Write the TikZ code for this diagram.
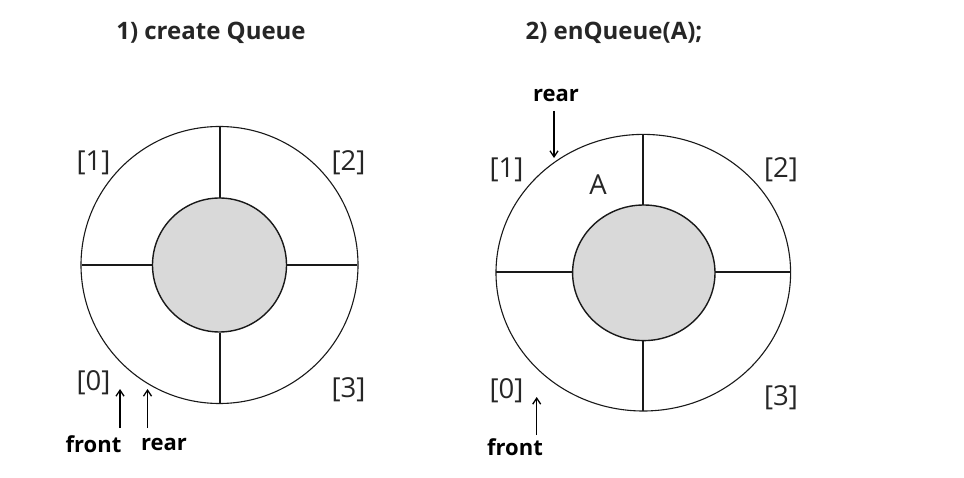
\documentclass[tikz,border=0pt]{standalone}
\usepackage{fontspec}
\setmainfont{Open Sans}
\usetikzlibrary{arrows.meta}
\begin{document}
\begin{tikzpicture}[x=1pt,y=-1pt,
  title/.style={font=\fontsize{24}{28}\selectfont\bfseries, text=black!85},
  idx/.style={font=\fontsize{27.5}{32}\selectfont, text=black!85},
  ptr/.style={font=\fontsize{22}{26}\selectfont\bfseries, text=black},
  divider/.style={line width=2pt, draw=black!90},
  ring/.style={line width=1.1pt, draw=black!90},
  hub/.style={line width=1.4pt, draw=black!90, fill=black!15},
  ptrarrow/.style={line width=1.3pt, -{Straight Barb[length=6pt,width=8pt]}}]
\useasboundingbox[fill=white] (0,0) rectangle (964,478);

% ---------- 1) create Queue ----------
\node[title] (t1) at (211,33) {1) create Queue};
\draw[divider] (219.5,126) -- (219.5,198) (219.5,333) -- (219.5,404)
  (82,265) -- (153,265) (286,265) -- (357,265);
\draw[hub] (219.5,265) circle[radius=67];
\draw[ring] (219.5,265) circle[radius=138.5];
\node[idx] (l1) at (93.5,163) {[1]};
\node[idx] (l2) at (348.5,163) {[2]};
\node[idx] (l0) at (93.5,383) {[0]};
\node[idx] (l3) at (348.5,390) {[3]};
\node[ptr] (f1) at (93.5,444) {front};
\node[ptr] (r1) at (164,444) {rear};
\coordinate (f1a) at (120,428);
\coordinate (f1b) at (120,389);
\coordinate (r1a) at (147.5,428);
\coordinate (r1b) at (147.5,389);
\draw[ptrarrow] (f1a) -- (f1b);
\draw[ptrarrow] (r1a) -- (r1b);

% ---------- 2) enQueue(A); ----------
\node[title] (t2) at (614,33) {2) enQueue(A);};
\draw[divider] (643.3,134.5) -- (643.3,205) (643.3,340.7) -- (643.3,411)
  (496,272) -- (572.7,272) (715,272) -- (790.7,272);
\draw[hub] (643.8,272.8) ellipse[x radius=71.2, y radius=67.8];
\draw[ring] (643.3,272.7) ellipse[x radius=147.3, y radius=138.3];
\node[idx] (m1) at (506.5,170) {[1]};
\node[idx] (m2) at (781,170) {[2]};
\node[idx] (m0) at (506.5,391) {[0]};
\node[idx] (m3) at (781,398) {[3]};
\node[idx] (a) at (598,185) {A};
\node[ptr] (r2) at (556,95) {rear};
\node[ptr] (f2) at (515,447) {front};
\coordinate (r2a) at (554,111);
\coordinate (r2b) at (554,158);
\coordinate (f2a) at (536.7,435);
\coordinate (f2b) at (536.7,397);
\draw[ptrarrow] (r2a) -- (r2b);
\draw[ptrarrow] (f2a) -- (f2b);
\end{tikzpicture}
\end{document}
